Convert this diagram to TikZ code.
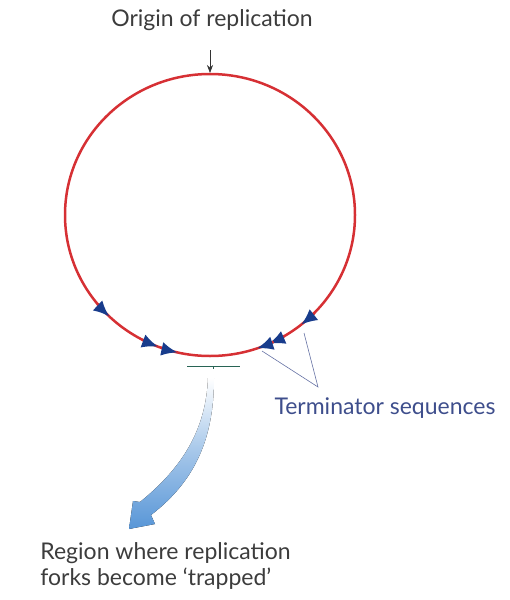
\documentclass[tikz,border=0pt]{standalone}
\usepackage{fontspec}
\setmainfont{Lato}
\usetikzlibrary{arrows.meta}
\definecolor{ringred}{RGB}{214,48,52}
\definecolor{termblue}{RGB}{24,60,140}
\definecolor{labelblue}{RGB}{62,78,140}
\definecolor{fatblue}{RGB}{88,150,215}
\definecolor{bargreen}{RGB}{40,100,85}
\definecolor{textgray}{RGB}{60,60,60}
\tikzset{
  txt/.style={font=\fontsize{23}{26}\selectfont, text=textgray, inner sep=0pt},
  term/.style={ringred, line width=2.5pt, -{Latex[length=16pt,width=14pt,color=termblue]}}
}
\begin{document}
\begin{tikzpicture}[x=1pt, y=-1pt, >=stealth, thick]
    \useasboundingbox (0,0) rectangle (510,600);

    \node (origin) [txt] at (212,20) {Origin of replication};
    \coordinate (o1) at (210,50);
    \coordinate (top) at (210,73);
    \draw[-{Stealth[length=8pt,width=6pt]}, black!80, semithick] (o1) -- (top);

    % chromosome
    \draw[ringred, line width=2.5pt] (210,215) ellipse [x radius=145, y radius=141];

    % terminator sequences
    \foreach \a in {141,118,110}
        \draw[term] (210,215) ++(\a:145 and 141) arc[start angle=\a, end angle=\a-7, x radius=145, y radius=141];
    \foreach \a in {44,59,64}
        \draw[term] (210,215) ++(\a:145 and 141) arc[start angle=\a, end angle=\a+7, x radius=145, y radius=141];

    \coordinate (t1) at (262,351);
    \coordinate (t2) at (304,333);
    \node (termtext) [txt, text=labelblue] at (385,408) {Terminator sequences};
    \coordinate (tj) at (318,387);
    \draw[labelblue!80, semithick] (t1) -- (tj) -- (t2);

    % trap region
    \coordinate (b1) at (187,366);
    \coordinate (b2) at (240,366);
    \draw[bargreen, semithick] (b1) -- (b2);
    \draw[bargreen, semithick] (213,366) -- (213,369);

    \fill[top color=white, bottom color=fatblue, middle color=fatblue!55, draw=none]
        (208,378) .. controls (206,430) and (182,468) .. (140,502)
        -- (133,501) -- (129,529) -- (155,524) -- (151,515)
        .. controls (194,482) and (214,440) .. (214,378) -- cycle;

    \node (region) [txt, align=left, anchor=north west] at (40,542)
        {Region where replication\\forks become `trapped'};
\end{tikzpicture}
\end{document}
